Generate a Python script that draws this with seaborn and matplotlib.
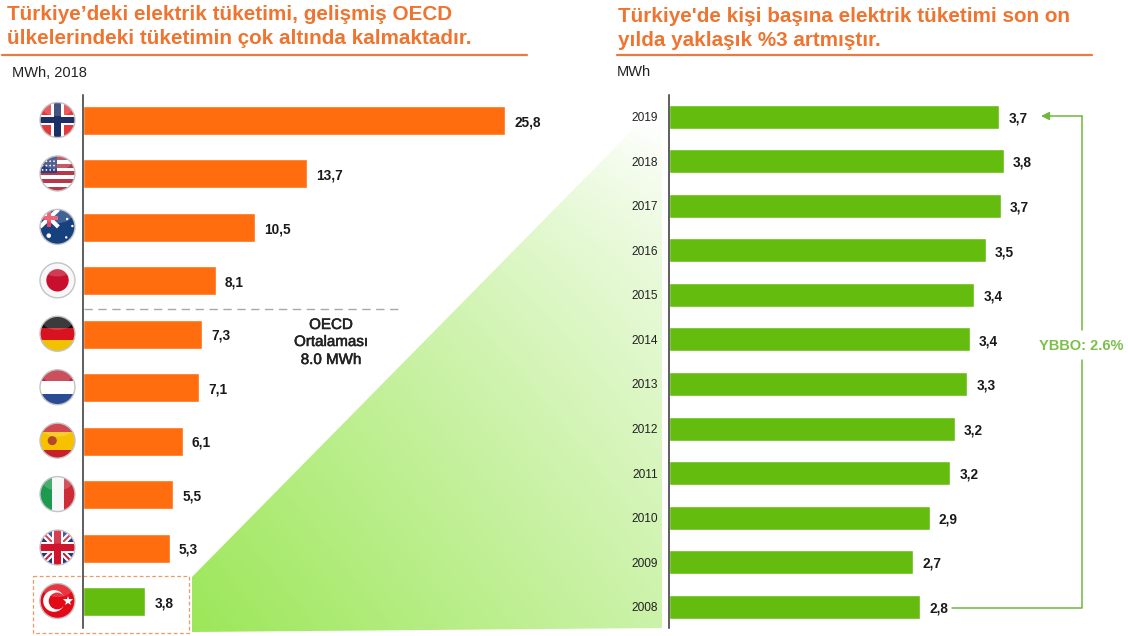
import numpy as np
import pandas as pd
import matplotlib
matplotlib.use("Agg")
import matplotlib.pyplot as plt
import matplotlib.patheffects as pe
import seaborn as sns
from matplotlib.patches import Circle, Ellipse, Polygon, Rectangle
from matplotlib.transforms import Affine2D

countries = ["Norveç", "ABD", "Avustralya", "Japonya", "Almanya", "Hollanda", "İspanya", "İtalya", "Birleşik Krallık", "Türkiye"]
country_values = [25.8, 13.7, 10.5, 8.1, 7.3, 7.1, 6.1, 5.5, 5.3, 3.8]
country_labels = ["25,8", "13,7", "10,5", "8,1", "7,3", "7,1", "6,1", "5,5", "5,3", "3,8"]
flag_codes = ["no", "us", "au", "jp", "de", "nl", "es", "it", "uk", "tr"]

years = ["2019", "2018", "2017", "2016", "2015", "2014", "2013", "2012", "2011", "2010", "2009", "2008"]
year_values = [3.71, 3.76, 3.73, 3.56, 3.43, 3.38, 3.35, 3.21, 3.16, 2.93, 2.74, 2.82]
year_labels = ["3,7", "3,8", "3,7", "3,5", "3,4", "3,4", "3,3", "3,2", "3,2", "2,9", "2,7", "2,8"]

ORANGE = "#FF6D0E"
GREEN = "#64BC0F"
TITLE = "#EE7430"
RULE = "#E87B40"
ARROW = "#6FB83C"
W, H = 1128, 636

sns.set_theme(style="white")
plt.rcParams["font.family"] = ["Liberation Sans", "DejaVu Sans"]

fig = plt.figure(figsize=(W / 100, H / 100), dpi=100)

# overlay in pixel coordinates, sits under the two bar charts
ov = fig.add_axes([0, 0, 1, 1], zorder=0)


def px_axes(x0, x1, y0, y1):
    return fig.add_axes([x0 / W, 1 - y1 / H, (x1 - x0) / W, (y1 - y0) / H], zorder=1, facecolor="none")


def bars(ax, cats, vals, labels, colors, x0, x1, y_first, step, bar_h, scale, size=9.8):
    df = pd.DataFrame({"cat": cats, "val": vals})
    sns.barplot(data=df, x="val", y="cat", hue="cat", palette=colors, dodge=False,
                legend=False, width=bar_h / step, saturation=1, ax=ax)
    ax.set_xlim(0, (x1 - x0) / scale)
    ax.set_ylim((628 - y_first) / step, (95 - y_first) / step)
    ax.set_xlabel("")
    ax.set_ylabel("")
    ax.set_xticks([])
    sns.despine(ax=ax, bottom=True)
    ax.spines["left"].set_color("#333333")
    ax.spines["left"].set_linewidth(1.1)
    for i, (v, lab) in enumerate(zip(vals, labels)):
        ax.annotate(lab, (v, i), xytext=(6.6, -1.2), textcoords="offset points", va="center",
                    fontsize=size, fontweight="bold", color="#1a1a1a")


ax1 = px_axes(83, 600, 95, 628)
colors1 = [ORANGE] * 9 + [GREEN]
bars(ax1, countries, country_values, country_labels, colors1, 83, 600, 120.5, 53.44, 29, 16.36)
ax1.set_yticks([])

ax2 = px_axes(669, 1128, 95, 628)
bars(ax2, years, year_values, year_labels, [GREEN] * 12, 669, 1128, 116.7, 44.55, 24, 89)
ax2.tick_params(axis="y", length=0, pad=8, labelsize=8.6, labelcolor="#222222")

# gradient wedge between the Turkey bar and the right panel
grid_y, grid_x = np.mgrid[90:640:4, 185:670:4]
rise = (628 - grid_y) / 530
white = np.clip(0.06 + 0.45 * (grid_x - 192) / 470 + 0.40 * rise + 0.15 * rise ** 6, 0, 1)[..., None]
rgb = (1 - white) * np.array([0.59, 0.90, 0.31]) + white
im = ov.imshow(rgb, extent=(185, 670, 640, 90), aspect="auto", zorder=1, interpolation="bilinear")
wedge = Polygon([(192, 577), (662, 100), (662, 628), (192, 632)], closed=True, transform=ov.transData, fc="none", ec="none")
ov.add_patch(wedge)
im.set_clip_path(wedge)

ov.set_xlim(0, W)
ov.set_ylim(H, 0)
ov.axis("off")


def flag(code, cx, cy, r=17.5):
    tr = Affine2D().scale(r).translate(cx, cy) + ov.transData
    clip = Circle((0, 0), 1, transform=tr, fc="white", ec="none", zorder=3)
    ov.add_patch(clip)

    def rect(x0, y0, x1, y1, c, z=4):
        p = Rectangle((x0, y0), x1 - x0, y1 - y0, transform=tr, fc=c, ec="none", zorder=z)
        ov.add_patch(p)
        p.set_clip_path(clip)

    def disc(x, y, rad, c, z=5):
        p = Circle((x, y), rad, transform=tr, fc=c, ec="none", zorder=z)
        ov.add_patch(p)
        p.set_clip_path(clip)

    def diag(x0, y0, x1, y1, c, lw, z=5):
        ln, = ov.plot([x0, x1], [y0, y1], transform=tr, color=c, lw=lw, zorder=z, solid_capstyle="butt")
        ln.set_clip_path(clip)

    if code == "no":
        rect(-1, -1, 1, 1, "#E5383B")
        rect(-0.35, -1, 0.35, 1, "white", 5)
        rect(-1, -0.3, 1, 0.3, "white", 5)
        rect(-0.22, -1, 0.22, 1, "#1B2F66", 6)
        rect(-1, -0.18, 1, 0.18, "#1B2F66", 6)
    elif code == "us":
        for k in range(9):
            rect(-1, -1 + k * 2 / 9, 1, -1 + (k + 1) * 2 / 9, "#B5394A" if k % 2 == 0 else "white")
        rect(-1, -1, -0.05, 0.0, "#2F3F7C", 5)
        for sx in np.linspace(-0.85, -0.2, 4):
            for sy in (-0.7, -0.45, -0.2):
                disc(sx, sy, 0.05, "white", 6)
    elif code == "au":
        rect(-1, -1, 1, 1, "#17407F")
        diag(-1, -1, 0.05, 0, "white", 3, 6)
        diag(-1, 0, 0.05, -1, "white", 3, 6)
        rect(-1, -0.62, 0.05, -0.38, "#E6455C", 7)
        rect(-0.58, -1, -0.36, 0, "#E6455C", 7)
        disc(-0.5, 0.5, 0.13, "white")
        for sx, sy in [(0.55, -0.45), (0.85, -0.05), (0.5, 0.6)]:
            disc(sx, sy, 0.07, "white")
    elif code == "jp":
        rect(-1, -1, 1, 1, "#F7F7F7")
        disc(0, 0, 0.64, "#C8102E")
    elif code == "de":
        rect(-1, -1, 1, -0.33, "#111111")
        rect(-1, -0.33, 1, 0.36, "#D9121F")
        rect(-1, 0.36, 1, 1, "#F2C200")
    elif code == "nl":
        rect(-1, -1, 1, -0.33, "#C0293A")
        rect(-1, -0.33, 1, 0.36, "white")
        rect(-1, 0.36, 1, 1, "#2B4C94")
    elif code == "es":
        rect(-1, -1, 1, 1, "#C8202B")
        rect(-1, -0.52, 1, 0.52, "#F6C200", 5)
        disc(-0.3, 0, 0.26, "#B5482A", 6)
    elif code == "it":
        rect(-1, -1, -0.33, 1, "#1E9A50")
        rect(-0.33, -1, 0.36, 1, "#F7F7F7")
        rect(0.36, -1, 1, 1, "#CE2B37")
    elif code == "uk":
        rect(-1, -1, 1, 1, "#27367F")
        diag(-1, -1, 1, 1, "white", 4.5)
        diag(-1, 1, 1, -1, "white", 4.5)
        diag(-1, -1, 1, 1, "#CF142B", 1.4, 6)
        diag(-1, 1, 1, -1, "#CF142B", 1.4, 6)
        rect(-1, -0.32, 1, 0.32, "white", 7)
        rect(-0.32, -1, 0.32, 1, "white", 7)
        rect(-1, -0.18, 1, 0.18, "#CF142B", 8)
        rect(-0.18, -1, 0.18, 1, "#CF142B", 8)
    elif code == "tr":
        rect(-1, -1, 1, 1, "#E30A17")
        disc(-0.2, 0, 0.62, "white")
        disc(-0.02, 0, 0.48, "#E30A17", 6)
        s, = ov.plot([0.58], [0], transform=tr, marker="*", ms=7.5, color="white", mew=0, zorder=7)
        s.set_clip_path(clip)

    gloss = Ellipse((0, -0.62), 1.6, 0.8, transform=tr, fc="white", ec="none", alpha=0.18, zorder=9)
    ov.add_patch(gloss)
    gloss.set_clip_path(clip)
    ov.add_patch(Circle((0, 0), 1, transform=tr, fc="none", ec="#C4C4C4", lw=1, zorder=10))


for i, code in enumerate(flag_codes):
    flag(code, 57.5, 120 + i * 53.44)

# titles
ov.text(7, 15, "Türkiye’deki elektrik tüketimi, gelişmiş OECD", fontsize=14.9, fontweight="bold", color=TITLE, va="center")
ov.text(7, 39, "ülkelerindeki tüketimin çok altında kalmaktadır.", fontsize=14.9, fontweight="bold", color=TITLE, va="center")
ov.text(618, 17, "Türkiye'de kişi başına elektrik tüketimi son on", fontsize=14.9, fontweight="bold", color=TITLE, va="center")
ov.text(618, 41, "yılda yaklaşık %3 artmıştır.", fontsize=14.9, fontweight="bold", color=TITLE, va="center")
ov.plot([2, 527], [54.5, 54.5], color=RULE, lw=1.6)
ov.plot([617, 1092], [55, 55], color=RULE, lw=1.6)
ov.text(12, 73, "MWh, 2018", fontsize=10.5, color="#222222", va="center")
ov.text(617, 72, "MWh", fontsize=10.5, color="#222222", va="center")

# OECD average divider and note
ov.plot([84, 398], [308.5, 308.5], color="#A4A9AE", lw=1, dashes=(6, 4))
thick = [pe.withStroke(linewidth=0.4, foreground="#222222")]
for note_y, note in zip([325, 342, 360], ["OECD", "Ortalaması", "8.0 MWh"]):
    ov.text(331, note_y, note, fontsize=10.9, color="#222222", ha="center", va="center", path_effects=thick)

# dashed box round Turkey
ov.add_patch(Rectangle((32.5, 576), 156.5, 57, fc="none", ec="#EE9A62", lw=0.9, ls=(0, (3, 2)), zorder=2))

# growth bracket
ov.plot([952, 1081.5, 1081.5], [608, 608, 360], color=ARROW, lw=1.1)
ov.plot([1081.5, 1081.5], [330, 116], color=ARROW, lw=1.1)
ov.annotate("", xy=(1041, 116), xytext=(1082, 116),
            arrowprops=dict(arrowstyle="-|>", color=ARROW, lw=1.1, mutation_scale=12, shrinkA=0, shrinkB=0))
ov.text(1081.5, 346, "YBBO: 2.6%", fontsize=10.5, fontweight="bold", color="#7CC04A", ha="center", va="center")

fig.savefig("out.png", dpi=100)
